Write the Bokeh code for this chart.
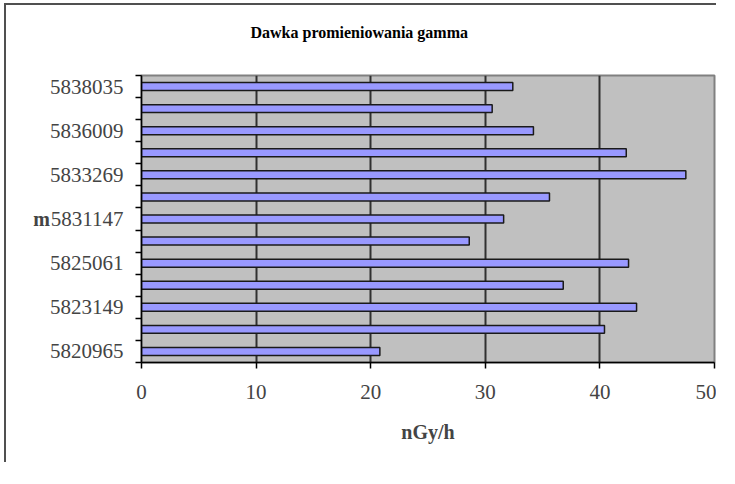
from bokeh.plotting import figure
from bokeh.models import FixedTicker, Title, ColumnDataSource
from bokeh.embed import file_html
from bokeh.resources import INLINE

# Categories (bottom to top); only every other one is labelled in the chart
categories = ["5820965", "", "5823149", "", "5825061", "", "5831147", "",
              "5833269", "", "5836009", "", "5838035"]
dose = [20.8, 40.4, 43.2, 36.8, 42.5, 28.6, 31.6, 35.6, 47.5, 42.3, 34.2, 30.6, 32.4]
x_ticks = [0, 10, 20, 30, 40, 50]
title_text = "Dawka promieniowania gamma"

positions = list(range(1, len(categories) + 1))
src = ColumnDataSource(dict(y=positions, v=dose))

FONT = "Liberation Serif"

p = figure(width=716, height=462, output_backend="svg", toolbar_location=None,
           x_range=(0, 50), y_range=(0.5, len(categories) + 0.5),
           min_border_left=141, min_border_right=2, min_border_top=75, min_border_bottom=100)
# outer chart-area border (left and top), drawn behind a transparent canvas border
p.styles = {"box-shadow": "inset 4px 3px 0 0 white, inset 6px 5px 0 0 #505050"}

p.background_fill_color = "#C0C0C0"
p.border_fill_color = None
p.outline_line_color = "#808080"
p.outline_line_width = 2

p.hbar(y="y", right="v", left=0, height=0.36, source=src,
       fill_color="#9999FF", line_color="#1a1a1a", line_width=1.5)

# title (a blank second line lifts it away from the plot frame)
p.title = Title(text=title_text + "\n ", align="left", offset=109, standoff=35,
                text_font=FONT, text_font_size="16px", text_font_style="bold",
                text_color="black")

# x axis
p.xaxis.ticker = FixedTicker(ticks=x_ticks)
p.xaxis.axis_label = "nGy/h"
p.xaxis.axis_label_text_font = FONT
p.xaxis.axis_label_text_font_size = "20px"
p.xaxis.axis_label_text_font_style = "bold"
p.xaxis.axis_label_standoff = 19
p.xaxis.major_label_text_font = FONT
p.xaxis.major_label_text_font_size = "21px"
p.xaxis.major_label_standoff = 16
p.xaxis.major_tick_out = 6
p.xaxis.major_tick_in = 0
p.xaxis.minor_tick_out = 0
p.xaxis.axis_line_color = "black"
p.xaxis.axis_line_width = 1.5
p.xaxis.major_tick_line_width = 1.5

# y axis
centers = [i for i, c in zip(positions, categories) if c]
p.yaxis.ticker = FixedTicker(ticks=centers,
                             minor_ticks=[k + 0.5 for k in range(0, len(categories) + 1)])
p.yaxis.major_label_overrides = {i: c for i, c in zip(positions, categories) if c}
p.yaxis.major_label_text_font = FONT
p.yaxis.major_label_text_font_size = "21px"
p.yaxis.major_label_standoff = 12
p.yaxis.major_tick_out = 0
p.yaxis.major_tick_in = 0
p.yaxis.minor_tick_out = 6
p.yaxis.minor_tick_in = 0
p.yaxis.minor_tick_line_color = "black"
p.yaxis.minor_tick_line_width = 1.5
p.yaxis.axis_line_color = "black"
p.yaxis.axis_line_width = 1.5
p.yaxis.axis_label = "m"
p.yaxis.axis_label_orientation = "horizontal"
p.yaxis.axis_label_text_font = FONT
p.yaxis.axis_label_text_font_size = "20px"
p.yaxis.axis_label_text_font_style = "bold"
p.yaxis.axis_label_standoff = -3

# grid
p.xgrid.ticker = FixedTicker(ticks=x_ticks[1:-1])
p.xgrid.grid_line_color = "#303030"
p.xgrid.grid_line_width = 2
p.ygrid.grid_line_color = None

open("out.html", "w").write(file_html(p, INLINE))
